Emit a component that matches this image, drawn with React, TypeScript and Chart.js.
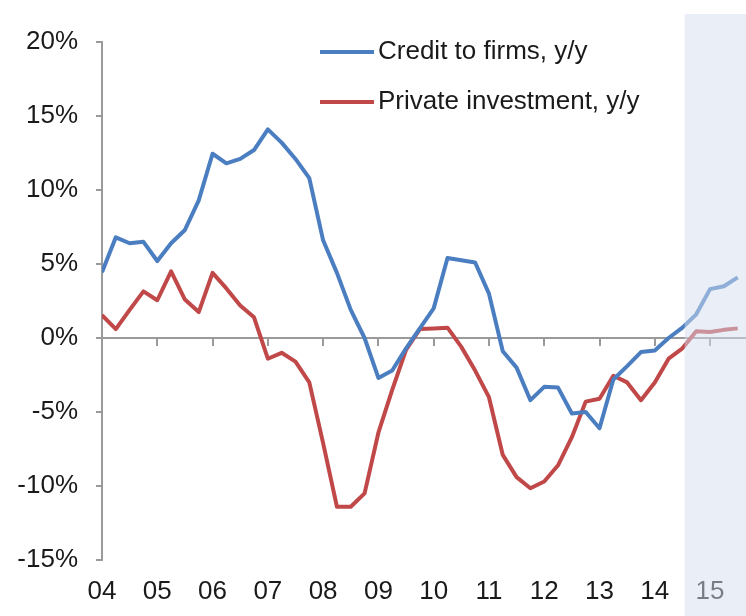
import { useEffect, useRef } from 'react';
import { Chart, registerables } from 'chart.js';

Chart.register(...registerables);

// ---- data ----
const startYear = 2004;
const quartersPerYear = 4;
const seriesNames = ['Credit to firms, y/y', 'Private investment, y/y'];
const creditToFirms = [
  4.45, 6.8, 6.4, 6.5, 5.2, 6.4, 7.3, 9.3, 12.45, 11.8, 12.1, 12.7, 14.1, 13.2, 12.1, 10.8,
  6.6, 4.4, 1.9, 0.0, -2.7, -2.2, -0.7, 0.65, 2.0, 5.4, 5.25, 5.1, 3.0, -0.9, -2.0, -4.2,
  -3.3, -3.35, -5.1, -5.0, -6.1, -2.8, -1.9, -0.95, -0.85, 0.0, 0.7, 1.6, 3.3, 3.5, 4.1,
];
const privateInvestment = [
  1.55, 0.6, 1.9, 3.15, 2.55, 4.5, 2.6, 1.75, 4.4, 3.35, 2.2, 1.4, -1.4, -1.0, -1.6, -3.0,
  -7.1, -11.4, -11.4, -10.5, -6.4, -3.5, -0.8, 0.6, 0.65, 0.7, -0.6, -2.2, -4.0, -7.9, -9.4, -10.15,
  -9.7, -8.6, -6.7, -4.3, -4.1, -2.55, -3.0, -4.2, -3.0, -1.4, -0.7, 0.45, 0.4, 0.55, 0.65,
];
const yearTicks = [2004, 2005, 2006, 2007, 2008, 2009, 2010, 2011, 2012, 2013, 2014, 2015];
const yearLabels = ['04', '05', '06', '07', '08', '09', '10', '11', '12', '13', '14', '15'];
const yTicks = [-15, -10, -5, 0, 5, 10, 15, 20];
const yMin = -15;
const yMax = 20;
const xMax = 2015.65;
const forecastStart = 2014.54;

const FONT = "'Liberation Sans', Arial, sans-serif";
const TEXT = '#1a1a1a';
const AXIS = '#9a9a9a';
const BLUE = '#4a7ec0';
const RED = '#c04848';

const shadePlugin = {
  id: 'forecastShade',
  afterDatasetsDraw(chart: any) {
    const { ctx, chartArea, scales } = chart;
    const x0 = scales.x.getPixelForValue(forecastStart);
    const top = chartArea.top - 28;
    ctx.save();
    ctx.fillStyle = 'rgba(212,221,240,0.5)';
    ctx.fillRect(x0, top, chart.width - x0, chart.height - top);
    ctx.restore();
  },
};

const legendPlugin = {
  id: 'customLegend',
  afterDraw(chart: any) {
    const { ctx } = chart;
    const ds = chart.data.datasets;
    ctx.save();
    ds.forEach((d: any, i: number) => {
      const y = 52 + i * 50;
      ctx.strokeStyle = d.borderColor;
      ctx.lineWidth = 4;
      ctx.lineCap = 'butt';
      ctx.beginPath();
      ctx.moveTo(320, y);
      ctx.lineTo(374, y);
      ctx.stroke();
      ctx.fillStyle = TEXT;
      ctx.font = `26px ${FONT}`;
      ctx.textAlign = 'left';
      ctx.textBaseline = 'middle';
      ctx.fillText(d.label, 378, y);
    });
    ctx.restore();
  },
};

const setYearTicks = (s: any) => {
  s.ticks = yearTicks.map((v) => ({ value: v }));
};

export default function App() {
  const ref = useRef<HTMLCanvasElement | null>(null);

  useEffect(() => {
    if (!ref.current) return;
    const toPoints = (arr: number[]) =>
      arr.map((v, i) => ({ x: startYear + i / quartersPerYear, y: v }));
    const chart = new Chart(ref.current, {
      type: 'line',
      data: {
        datasets: [
          {
            label: seriesNames[0],
            data: toPoints(creditToFirms),
            borderColor: BLUE,
            backgroundColor: BLUE,
            borderWidth: 4,
            pointRadius: 0,
            tension: 0,
            borderJoinStyle: 'round',
            xAxisID: 'x',
            yAxisID: 'y',
          },
          {
            label: seriesNames[1],
            data: toPoints(privateInvestment),
            borderColor: RED,
            backgroundColor: RED,
            borderWidth: 4,
            pointRadius: 0,
            tension: 0,
            borderJoinStyle: 'round',
            xAxisID: 'x',
            yAxisID: 'y',
          },
        ],
      },
      options: {
        animation: false,
        responsive: false,
        devicePixelRatio: 1,
        layout: { padding: { top: 42, left: 0, right: 0, bottom: 0 } },
        plugins: {
          legend: { display: false },
          tooltip: { enabled: false },
        },
        scales: {
          x: {
            type: 'linear',
            min: startYear,
            max: xMax,
            position: { y: 0 } as any,
            afterBuildTicks: setYearTicks,
            ticks: { display: false },
            grid: {
              display: true,
              drawOnChartArea: false,
              drawTicks: true,
              tickLength: 7,
              color: AXIS,
              lineWidth: 2,
            },
            border: { display: true, color: AXIS, width: 2 },
          },
          xb: {
            type: 'linear',
            min: startYear,
            max: xMax,
            position: 'bottom',
            afterBuildTicks: setYearTicks,
            afterFit: (s: any) => {
              s.height = 56;
            },
            grid: { display: false, drawTicks: false },
            border: { display: false },
            ticks: {
              padding: 16,
              autoSkip: false,
              maxRotation: 0,
              color: TEXT,
              font: { family: FONT, size: 26 },
              callback: (v: any) => {
                const i = yearTicks.indexOf(Number(v));
                return i >= 0 ? yearLabels[i] : '';
              },
            },
          },
          y: {
            type: 'linear',
            min: yMin,
            max: yMax,
            position: 'left',
            afterBuildTicks: (s: any) => {
              s.ticks = yTicks.map((v) => ({ value: v }));
            },
            afterFit: (s: any) => {
              s.width = 102;
            },
            grid: {
              drawOnChartArea: false,
              drawTicks: true,
              tickLength: 6,
              color: AXIS,
              lineWidth: 2,
            },
            border: { display: true, color: AXIS, width: 2 },
            ticks: {
              padding: 18,
              color: TEXT,
              font: { family: FONT, size: 26 },
              callback: (v: any) => `${v}%`,
            },
          },
        },
      },
      plugins: [shadePlugin, legendPlugin],
    } as any);
    return () => chart.destroy();
  }, []);

  return (
    <div style={{ position: 'fixed', left: 0, top: 0, width: 746, height: 616, background: '#fff' }}>
      <canvas ref={ref} width={746} height={616} style={{ display: 'block' }} />
    </div>
  );
}
